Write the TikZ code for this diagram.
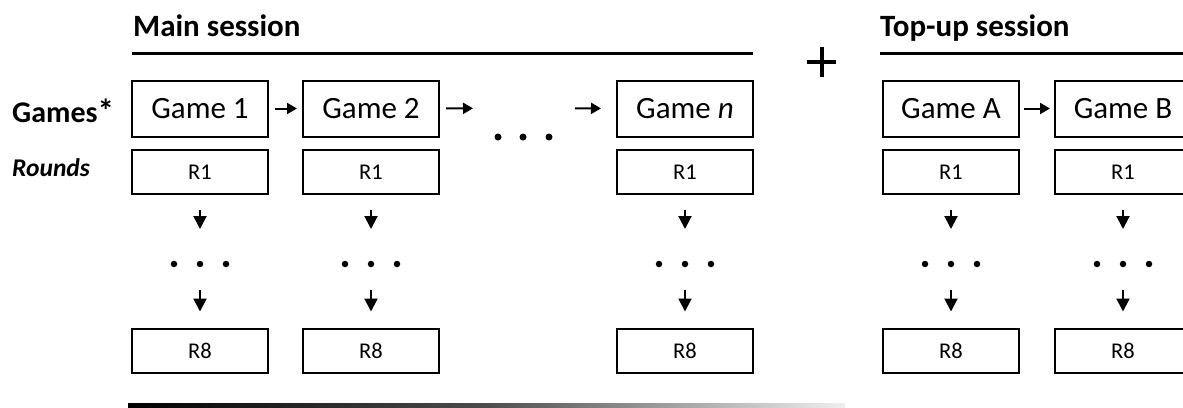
\documentclass[tikz,border=0pt]{standalone}
\usepackage{fontspec}
\setmainfont{Carlito}
\usetikzlibrary{arrows.meta}
\tikzset{
  gamebox/.style={draw, line width=2pt, minimum width=136pt, minimum height=56pt,
    inner sep=0pt, font=\fontsize{31}{36}\selectfont},
  roundbox/.style={draw, line width=2pt, minimum width=136pt, minimum height=44pt,
    inner sep=0pt, font=\fontsize{22.5}{26}\selectfont},
  title/.style={anchor=base west, inner sep=0pt, font=\fontsize{31}{36}\selectfont\bfseries},
  rowlabel/.style={anchor=base west, inner sep=0pt},
  harr/.style={line width=2pt, -{Triangle[length=10pt,width=11pt]}},
  varr/.style={line width=2pt, -{Triangle[length=13pt,width=13pt]}},
  rule/.style={line width=3pt},
  dotmark/.style={circle, fill, inner sep=0pt, minimum size=#1},
}
\begin{document}
\begin{tikzpicture}[x=1pt, y=-1pt]
\useasboundingbox (0,0) rectangle (1183,407);

% section titles and rules
\node[title] (mainT) at (133,36) {Main session};
\node[title] (topT) at (880,36) {Top-up session};
\coordinate (mainL) at (132,53);
\coordinate (mainR) at (753,53);
\coordinate (topL) at (880,53);
\coordinate (topR) at (1190,53);
\draw[rule] (mainL) -- (mainR);
\draw[rule] (topL) -- (topR);

% plus sign between the sessions
\draw[line width=3.5pt] (807,62) -- (836,62) (822,47) -- (822,77);

% row labels
\node[rowlabel, font=\fontsize{30}{36}\selectfont\bfseries] (lblG) at (12,122) {Games{\fontsize{33}{36}\selectfont*}};
\node[rowlabel, font=\fontsize{25.5}{30}\selectfont\bfseries\itshape] (lblR) at (12,176) {Rounds};

% one column per game: game box, first round, dots, last round
\foreach \n/\x/\t in {g1/200/{Game 1}, g2/371/{Game 2}, gn/685/{Game \textit{n}}, ga/951/{Game A}, gb/1123/{Game B}}{
  \node[gamebox] (\n) at (\x,108.5) {\t};
  \node[roundbox] (\n r1) at (\x,172) {R1};
  \coordinate (\n d) at (\x,264);
  \node[roundbox] (\n r8) at (\x,350.5) {R8};
  \foreach \dx in {-26,0,26}
    \node[dotmark=6.5pt] at ([xshift=\dx pt]\n d) {};
  \draw[varr, shorten <=15pt, shorten >=35pt] (\n r1.south) -- (\n d);
  \draw[varr, shorten <=26pt, shorten >=16pt] (\n d) -- (\n r8.north);
}

% sequence of games
\coordinate (hd) at (523,108);
\foreach \dx in {-25,0,26}
  \node[dotmark=7pt] at ([xshift=\dx pt, yshift=-29pt]hd) {};
\draw[harr, shorten <=6pt, shorten >=5pt] (g1.east) -- (g2.west);
\draw[harr, shorten <=6pt, shorten >=50pt] (g2.east) -- (hd);
\draw[harr, shorten <=52pt, shorten >=15pt] (hd) -- (gn.west);
\draw[harr, shorten <=4pt, shorten >=4pt] (ga.east) -- (gb.west);

% fading rule along the bottom
\coordinate (botL) at (128,403.5);
\coordinate (botR) at (845,407);
\shade[left color=black, right color=black!6, middle color=black!70] (botL) rectangle (botR);
\end{tikzpicture}
\end{document}
